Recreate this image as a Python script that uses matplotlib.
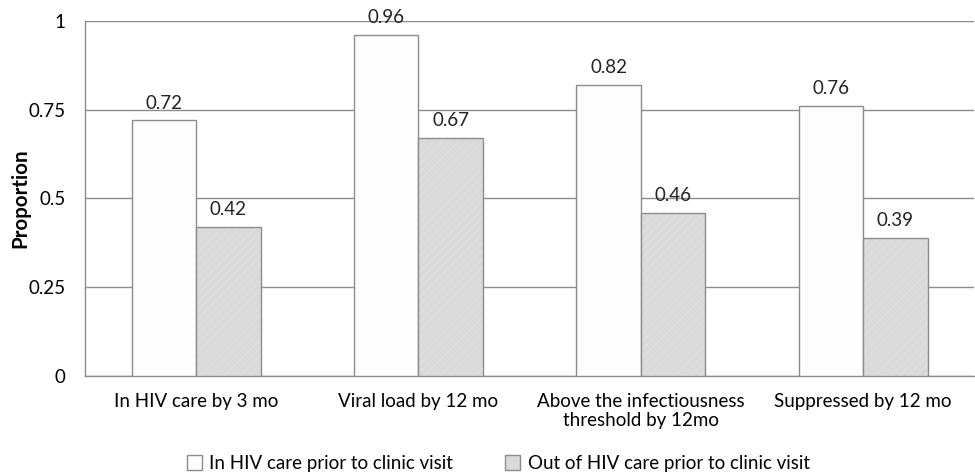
import matplotlib
matplotlib.use("Agg")
import matplotlib.pyplot as plt
from matplotlib.patches import Patch
import numpy as np

categories = ["In HIV care by 3 mo", "Viral load by 12 mo",
              "Above the infectiousness\nthreshold by 12mo", "Suppressed by 12 mo"]
in_care = [0.72, 0.96, 0.82, 0.76]
out_care = [0.42, 0.67, 0.46, 0.39]
series_labels = ["In HIV care prior to clinic visit", "Out of HIV care prior to clinic visit"]
yticks = [0, 0.25, 0.5, 0.75, 1]
ytick_labels = ["0", "0.25", "0.5", "0.75", "1"]

plt.rcParams["font.family"] = ["Lato", "DejaVu Sans"]
plt.rcParams["hatch.linewidth"] = 0.8

fig = plt.figure(figsize=(9.75, 4.74), dpi=100)
ax = fig.add_axes([0.0872, 0.2068, 0.912, 0.7489])

x = np.arange(len(categories))
w = 0.29
edge = "#8c8c8c"
gray = "#d9d9d9"
fs = 13.5
b1 = ax.bar(x - w / 2, in_care, w, color="#fdfdfd", edgecolor=edge, linewidth=1.0,
            label=series_labels[0], zorder=3)
# faint diagonal texture: hatch takes the edge colour, so outline drawn separately
ax.bar(x + w / 2, out_care, w, color=gray, edgecolor="#e0e0e0", linewidth=0,
       hatch="////", zorder=3)
b2 = ax.bar(x + w / 2, out_care, w, fill=False, edgecolor=edge, linewidth=1.0, zorder=4)

for bars, vals in ((b1, in_care), (b2, out_care)):
    for r, v in zip(bars, vals):
        ax.text(r.get_x() + r.get_width() / 2, v + 0.025, f"{v:.2f}",
                ha="center", va="bottom", fontsize=fs, color="#222222")

ax.set_xlim(-0.5, len(categories) - 0.5)
ax.set_ylim(0, 1)
ax.set_yticks(yticks)
ax.set_yticklabels(ytick_labels)
ax.set_xticks(x)
ax.set_xticklabels(categories, fontsize=fs, linespacing=1.2)
ax.tick_params(axis="y", labelsize=fs, length=0, pad=14)
ax.tick_params(axis="x", length=0, pad=12)
ax.grid(axis="y", color="#8c8c8c", linewidth=1.0, zorder=0)
ax.set_axisbelow(True)
for s in ("top", "right"):
    ax.spines[s].set_visible(False)
for s in ("left", "bottom"):
    ax.spines[s].set_color(edge)
    ax.spines[s].set_linewidth(1.0)
ax.set_ylabel("Proportion", fontsize=14.8, fontweight="bold")
ax.yaxis.set_label_coords(-0.062, 0.5)

handles = [Patch(facecolor="#fdfdfd", edgecolor=edge, linewidth=1.0),
           Patch(facecolor=gray, edgecolor=edge, linewidth=1.0)]
fig.legend(handles, series_labels, loc="center", bbox_to_anchor=(0.511, 0.022),
           ncol=2, frameon=False, fontsize=fs, handlelength=0.8, handleheight=0.8,
           handletextpad=0.4, columnspacing=2.8)

fig.savefig("out.png", dpi=100)
